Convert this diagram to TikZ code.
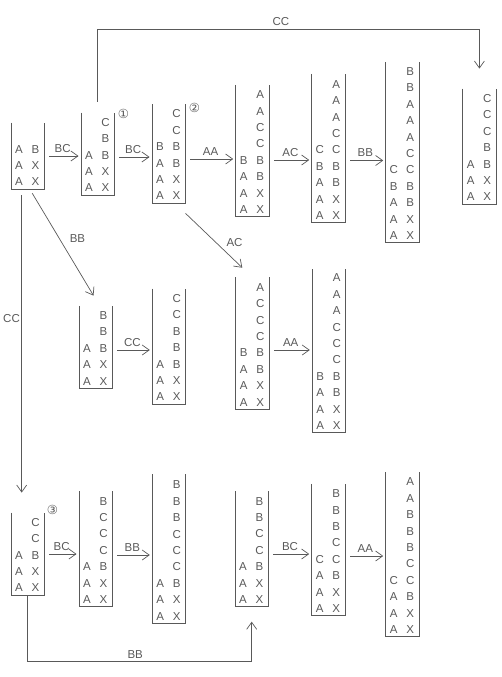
\documentclass[tikz,border=0pt]{standalone}
\usepackage{fontspec}
\setmainfont{Liberation Sans}
\newfontfamily\circfont{DejaVu Sans}
\usepackage{array}
\usetikzlibrary{arrows.meta,positioning}

\colorlet{ink}{black!65}
% one open-top box: name, left, bottom, text height, rows
\newcommand{\stackbox}[5]{%
  \node[stack, text height=#4pt, anchor=south west] (#1) at (#2,#3)
    {\begin{tabular}[b]{@{}w{c}{15.5pt}@{}w{c}{17.5pt}@{}}#5\end{tabular}};
  \draw[wall] (#1.north west) |- (#1.south east) -- (#1.north east);
}

\begin{document}
\begin{tikzpicture}[
      x=1pt, y=-1pt,
      font=\fontsize{11.5}{16.4}\selectfont, text=ink,
      stack/.style={inner sep=0pt, text depth=3pt},
      wall/.style={draw=ink, line width=0.7pt},
      arrow/.style={-{Straight Barb[length=7pt, width=10pt]}, draw=ink, line width=0.7pt},
      hop/.style={arrow, shorten <=5pt, shorten >=2.5pt},
      circnum/.style={font=\circfont\fontsize{12.5}{14}\selectfont, inner sep=0pt}
    ]
    \useasboundingbox (0,0) rectangle (501,677);
    % first row
    \stackbox{s0}{11}{189}{63}{A & B\\ A & X\\ A & X}
    \stackbox{s1}{81}{195}{79}{& C\\ & B\\ A & B\\ A & X\\ A & X}
    \stackbox{s2}{152}{203}{95.5}{& C\\ & C\\ B & B\\ A & B\\ A & X\\ A & X}
    \stackbox{s3}{235.7}{216.7}{128.5}{& A\\ & A\\ & C\\ & C\\ B & B\\ A & B\\ A & X\\ A & X}
    \stackbox{s4}{311.7}{222.7}{145.5}{& A\\ & A\\ & A\\ & C\\ C & C\\ B & B\\ A & B\\ A & X\\ A & X}
    \stackbox{s5}{385.7}{242.7}{177.2}{& B\\ & B\\ & A\\ & A\\ & A\\ & C\\ C & C\\ B & B\\ A & B\\ A & X\\ A & X}
    \stackbox{s6}{462.7}{204}{112}{& C\\ & C\\ & C\\ & B\\ A & B\\ A & X\\ A & X}
    \node[circnum] (c1) at ([shift={(9pt,-1pt)}]s1.north east) {①};
    \node[circnum] (c2) at ([shift={(9pt,-4pt)}]s2.north east) {②};
    \draw[hop] (s0.east |- 0,156) -- node[above] (l1) {BC} (s1.west |- 0,156);
    \draw[hop] (s1.east |- 0,157) -- node[above] (l2) {BC} (s2.west |- 0,157);
    \draw[hop] (s2.east |- 0,159) -- node[above] (l3) {AA} (s3.west |- 0,159);
    \draw[hop] (s3.east |- 0,160) -- node[above] (l4) {AC} (s4.west |- 0,160);
    \draw[hop] (s4.east |- 0,160.5) -- node[above] (l5) {BB} (s5.west |- 0,160.5);
    \draw[arrow, shorten <=11pt, shorten >=20pt] (s1.north) -- ++(0,-83.7)
      -| node[pos=0.24, above] (l6) {CC} (s6.north);
    % middle row
    \stackbox{s7}{79}{388.3}{79}{& B\\ & B\\ A & B\\ A & X\\ A & X}
    \stackbox{s8}{152.3}{404}{112}{& C\\ & C\\ & B\\ & B\\ A & B\\ A & X\\ A & X}
    \stackbox{s9}{235.7}{409.3}{128.5}{& A\\ & C\\ & C\\ & C\\ B & B\\ A & B\\ A & X\\ A & X}
    \stackbox{s10}{312.3}{432.7}{160}{& A\\ & A\\ & A\\ & C\\ & C\\ & C\\ B & B\\ A & B\\ A & X\\ A & X}
    \draw[arrow, shorten <=5pt, shorten >=12pt] ([xshift=2pt]s0.south)
      -- node[pos=0.42, right=7pt] (l7) {BB} ([xshift=4pt]s7.north);
    \draw[arrow, shorten <=15pt, shorten >=14pt] ([xshift=6pt]s2.south)
      -- node[pos=0.53, right=7pt] (l8) {AC} (s9.north);
    \draw[hop] (s7.east |- 0,350) -- node[above] (l9) {CC} (s8.west |- 0,350);
    \draw[hop] (s9.east |- 0,350) -- node[above] (l10) {AA} (s10.west |- 0,350);
    % last row
    \stackbox{s11}{11}{595}{79}{& C\\ & C\\ A & B\\ A & X\\ A & X}
    \stackbox{s12}{79}{606.7}{112}{& B\\ & C\\ & C\\ & C\\ A & B\\ A & X\\ A & X}
    \stackbox{s13}{152.3}{623.3}{145.5}{& B\\ & B\\ & B\\ & C\\ & C\\ & C\\ A & B\\ A & X\\ A & X}
    \stackbox{s14}{235}{606.7}{112}{& B\\ & B\\ & C\\ & C\\ A & B\\ A & X\\ A & X}
    \stackbox{s15}{311.7}{615.7}{128.5}{& B\\ & B\\ & B\\ & C\\ C & C\\ A & B\\ A & X\\ A & X}
    \stackbox{s16}{385.7}{636.7}{161}{& A\\ & A\\ & B\\ & B\\ & B\\ & C\\ C & C\\ A & B\\ A & X\\ A & X}
    \node[circnum] (c3) at ([shift={(8pt,3pt)}]s11.north east) {③};
    \draw[arrow, shorten <=6pt, shorten >=20pt] ([xshift=10.7pt]s0.south west)
      -- node[pos=0.4, left=0pt, inner xsep=1.5pt] (l11) {CC} ([xshift=10.7pt]s11.north west);
    \draw[hop] (s11.east |- 0,554) -- node[above] (l12) {BC} (s12.west |- 0,554);
    \draw[hop] (s12.east |- 0,555) -- node[above] (l13) {BB} (s13.west |- 0,555);
    \draw[hop] (s14.east |- 0,554) -- node[above] (l14) {BC} (s15.west |- 0,554);
    \draw[hop] (s15.east |- 0,556) -- node[above] (l15) {AA} (s16.west |- 0,556);
    \draw[arrow, shorten >=15pt] (s11.south) -- ++(0,66.7)
      -| node[pos=0.24, above] (l16) {BB} (s14.south);
  \end{tikzpicture}
\end{document}
